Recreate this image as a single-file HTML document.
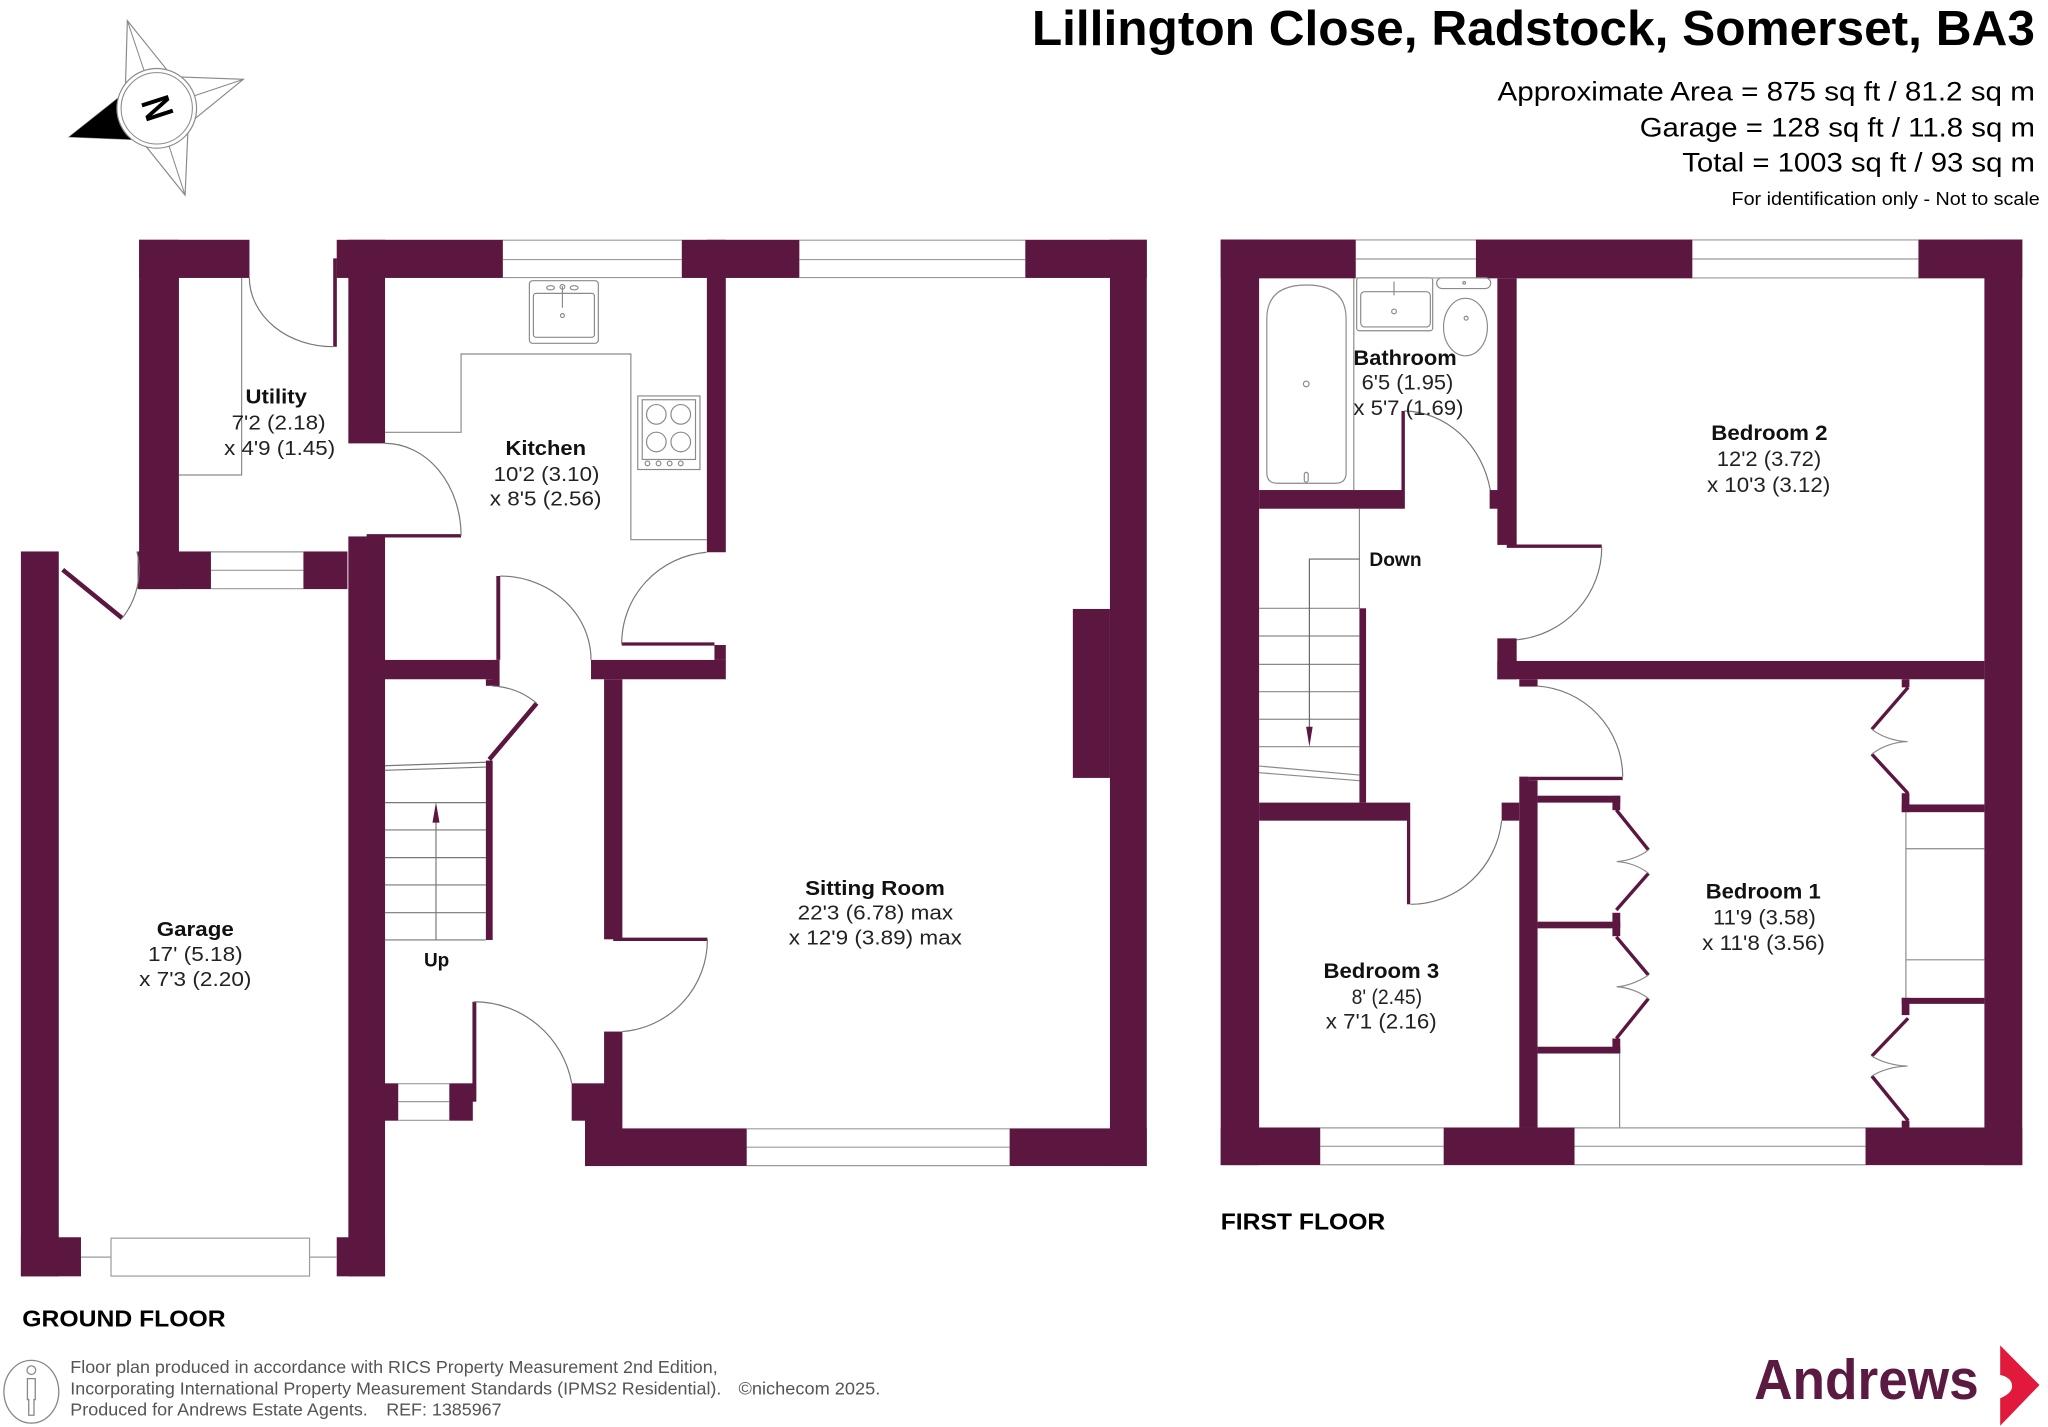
<!DOCTYPE html>
<html><head><meta charset="utf-8"><style>
html,body{margin:0;padding:0;background:#fff;overflow:hidden;}
svg{display:block;}
text{font-family:"Liberation Sans",Arial,sans-serif;}
.b{font-weight:bold;fill:#111;}
.d{fill:#222;}
</style></head><body>
<svg width="2048" height="1427" viewBox="0 0 1568 1092" preserveAspectRatio="none" xmlns="http://www.w3.org/2000/svg">
<rect x="0" y="0" width="1568" height="1092" fill="#fff"/>

<!-- Compass -->
<g>
<polygon points="97.5,15.8 132,58.7 186.3,60.7 144.1,95 141.7,149.3 107.8,107 53.1,104.7 95.9,70.8" fill="#fff" stroke="#8a8a8a" stroke-width="0.9"/>
<polygon points="53.1,104.7 107.8,107 120,82.9 95.9,70.8" fill="#000"/>
<line x1="97.5" y1="15.8" x2="120" y2="82.9" stroke="#8a8a8a" stroke-width="0.8"/>
<line x1="186.3" y1="60.7" x2="120" y2="82.9" stroke="#8a8a8a" stroke-width="0.8"/>
<line x1="141.7" y1="149.3" x2="120" y2="82.9" stroke="#8a8a8a" stroke-width="0.8"/>
<circle cx="120" cy="82.9" r="30.5" fill="#fff" stroke="#8a8a8a" stroke-width="0.9"/>
<circle cx="120" cy="82.9" r="27.3" fill="none" stroke="#8a8a8a" stroke-width="0.8"/>
<g transform="translate(120,82.9) rotate(-108) scale(0.78,1)"><text x="0" y="11.2" text-anchor="middle" font-size="31" font-weight="bold" fill="#000">N</text></g>
</g>

<!-- Title -->
<text x="790" y="34.4" font-size="37.5" font-weight="bold" fill="#000" textLength="768" lengthAdjust="spacingAndGlyphs">Lillington Close, Radstock, Somerset, BA3</text>
<text x="1146.5" y="77" font-size="20.5" fill="#000" textLength="411.5" lengthAdjust="spacingAndGlyphs">Approximate Area = 875 sq ft / 81.2 sq m</text>
<text x="1255.4" y="104.6" font-size="20.5" fill="#000" textLength="302.6" lengthAdjust="spacingAndGlyphs">Garage = 128 sq ft / 11.8 sq m</text>
<text x="1288" y="131.4" font-size="20.5" fill="#000" textLength="270" lengthAdjust="spacingAndGlyphs">Total = 1003 sq ft / 93 sq m</text>
<text x="1325.7" y="156.8" font-size="14" fill="#000" textLength="236" lengthAdjust="spacingAndGlyphs">For identification only - Not to scale</text>

<!-- ================= GROUND FLOOR ================= -->
<g fill="#5c1740">
<rect x="106.5" y="183.5" width="84.5" height="29.2"/>
<rect x="106.5" y="183.5" width="30.5" height="267.3"/>
<rect x="105.4" y="422" width="56.1" height="28.8"/>
<rect x="232.3" y="422" width="33.7" height="28.8"/>
<rect x="257.8" y="183.5" width="127.2" height="29.2"/>
<rect x="522" y="183.5" width="90" height="29.2"/>
<rect x="785" y="183.5" width="93" height="29.2"/>
<rect x="266.7" y="183.5" width="28.1" height="155.8"/>
<rect x="266.7" y="410.5" width="28.1" height="566.2"/>
<rect x="16" y="422" width="29" height="554.7"/>
<rect x="16" y="946.8" width="46" height="29.9"/>
<rect x="257.8" y="946.8" width="37" height="29.9"/>
<rect x="541.2" y="183.5" width="14.5" height="239.1"/>
<rect x="547" y="493.6" width="8.7" height="11.4"/>
<rect x="294.6" y="505" width="85.9" height="14.8"/>
<rect x="377" y="505" width="5.5" height="20"/>
<rect x="452.5" y="505" width="103.2" height="14.8"/>
<rect x="372" y="519.8" width="5.2" height="5"/>
<rect x="372" y="582" width="5.2" height="137.3"/>
<rect x="462.5" y="519.8" width="14" height="199"/>
<rect x="462.5" y="789.4" width="14" height="40"/>
<rect x="437.7" y="829" width="38.8" height="28.6"/>
<rect x="447.9" y="857" width="28.6" height="35.3"/>
<rect x="447.9" y="863.5" width="123.8" height="28.8"/>
<rect x="773" y="863.5" width="105" height="28.8"/>
<rect x="849.8" y="183.5" width="28.2" height="708.8"/>
<rect x="821.4" y="466" width="28.4" height="129.3"/>
<rect x="294.6" y="829" width="10.3" height="28.6"/>
<rect x="344" y="829" width="18" height="28.6"/>
<rect x="362" y="829" width="2.5" height="14"/>
</g>

<!-- door leaves ground -->
<g stroke="#5c1740" fill="none" stroke-linecap="butt">
<line x1="256.5" y1="197.7" x2="256.5" y2="265.3" stroke-width="2.8"/>
<line x1="280.7" y1="410" x2="353" y2="410" stroke-width="2.6"/>
<line x1="48" y1="436" x2="93.5" y2="473" stroke-width="3.5"/>
<line x1="381.5" y1="440.8" x2="381.5" y2="505" stroke-width="3"/>
<line x1="476" y1="492.8" x2="547" y2="492.8" stroke-width="2.5"/>
<line x1="410.9" y1="538.2" x2="374.6" y2="581.2" stroke-width="3.5"/>
<line x1="469.5" y1="718.8" x2="541.6" y2="718.8" stroke-width="2.5"/>
<line x1="363.2" y1="766.6" x2="363.2" y2="843" stroke-width="3"/>
</g>

<!-- door arcs ground -->
<g stroke="#777" fill="none" stroke-width="0.9">
<path d="M190.9,212.5 A64,53 0 0 0 255.2,265.3"/>
<path d="M294.8,339.3 A58.2,70.6 0 0 1 353,409.9"/>
<path d="M93.5,473 A58.6,58.6 0 0 0 104.8,422"/>
<path d="M382.8,440.8 A69.7,64.2 0 0 1 452.5,505"/>
<path d="M476,492.8 A71,70 0 0 1 541,422.6"/>
<path d="M377,525 A56.3,56.3 0 0 1 410.9,538.2"/>
<path d="M541.6,718.8 A70.6,70.6 0 0 1 476.5,789.4"/>
<path d="M363.2,766.6 A76,76 0 0 1 437.7,829"/>
</g>

<!-- windows ground -->
<g stroke="#9a9a9a" stroke-width="0.9" fill="none">
<path d="M385,183.8 H522 M385,198.6 H522 M385,212.4 H522"/>
<path d="M612,183.8 H785 M612,198.6 H785 M612,212.4 H785"/>
<path d="M161.5,422.3 H232.3 M161.5,436.4 H232.3 M161.5,450.5 H232.3"/>
<path d="M304.9,829.3 H344 M304.9,843 H344 M304.9,857.3 H344"/>
<path d="M571.7,863.8 H773 M571.7,877.9 H773 M571.7,892 H773"/>
<rect x="85" y="947.5" width="152" height="29"/>
<path d="M62,962 H85 M237,962 H257.8"/>
</g>

<!-- kitchen & utility fittings -->
<g stroke="#8a8a8a" stroke-width="0.9" fill="none">
<path d="M294.8,330.8 H353 V270.9 H483 V413 H541.2"/>
<path d="M185,212.7 V363.5 H137"/>
<rect x="405.3" y="214.8" width="52.8" height="47.9" rx="2.5"/>
<rect x="408.4" y="224.5" width="46.7" height="33.6" rx="2"/>
<ellipse cx="421.5" cy="220.2" rx="3" ry="1.6"/><ellipse cx="439.6" cy="220.2" rx="3" ry="1.6"/>
<circle cx="430.6" cy="219.5" r="1.8"/>
<line x1="430.6" y1="219" x2="430.6" y2="235.5"/>
<circle cx="430.6" cy="241.5" r="1.5"/>
<rect x="488.3" y="303" width="47.6" height="56.3"/>
<rect x="491.7" y="305.9" width="40.8" height="45.7"/>
<circle cx="502.5" cy="317.1" r="7.5"/><circle cx="521.2" cy="317.1" r="7.5"/>
<circle cx="502.5" cy="338.2" r="7.5"/><circle cx="521.2" cy="338.2" r="7.5"/>
<circle cx="495.7" cy="354.6" r="1.8"/><circle cx="504.2" cy="354.6" r="1.8"/><circle cx="512.7" cy="354.6" r="1.8"/><circle cx="521.2" cy="354.6" r="1.8"/>
</g>

<!-- ground stairs -->
<g stroke="#777" stroke-width="0.9" fill="none">
<line x1="294.6" y1="586" x2="372" y2="583.3"/>
<line x1="294.6" y1="589.5" x2="372" y2="587"/>
<line x1="294.6" y1="614.2" x2="372" y2="614.2"/>
<line x1="294.6" y1="635.1" x2="372" y2="635.1"/>
<line x1="294.6" y1="656.3" x2="372" y2="656.3"/>
<line x1="294.6" y1="677.2" x2="372" y2="677.2"/>
<line x1="294.6" y1="698.4" x2="372" y2="698.4"/>
<line x1="294.6" y1="719.3" x2="372" y2="719.3"/>
<line x1="333.8" y1="719.3" x2="333.8" y2="627"/>
</g>
<polygon points="331.1,629.5 336.5,629.5 333.8,614" fill="#5c1740"/>

<!-- ground labels -->
<text class="b" x="188" y="308.7" font-size="15.5" textLength="47" lengthAdjust="spacingAndGlyphs">Utility</text>
<text class="d" x="177.3" y="328.7" font-size="15.5" textLength="72" lengthAdjust="spacingAndGlyphs">7'2 (2.18)</text>
<text class="d" x="171.6" y="348.1" font-size="15.5" textLength="85" lengthAdjust="spacingAndGlyphs">x 4'9 (1.45)</text>

<text class="b" x="387" y="348.1" font-size="15.5" textLength="61.7" lengthAdjust="spacingAndGlyphs">Kitchen</text>
<text class="d" x="377.9" y="368.1" font-size="15.5" textLength="81" lengthAdjust="spacingAndGlyphs">10'2 (3.10)</text>
<text class="d" x="375" y="386.8" font-size="15.5" textLength="85.5" lengthAdjust="spacingAndGlyphs">x 8'5 (2.56)</text>

<text class="b" x="120" y="716.3" font-size="15.5" textLength="59" lengthAdjust="spacingAndGlyphs">Garage</text>
<text class="d" x="113.3" y="735.5" font-size="15.5" textLength="72.5" lengthAdjust="spacingAndGlyphs">17' (5.18)</text>
<text class="d" x="106.5" y="754.7" font-size="15.5" textLength="86" lengthAdjust="spacingAndGlyphs">x 7'3 (2.20)</text>

<text class="b" x="616.4" y="684.8" font-size="15.5" textLength="107" lengthAdjust="spacingAndGlyphs">Sitting Room</text>
<text class="d" x="610.7" y="703.6" font-size="15.5" textLength="119" lengthAdjust="spacingAndGlyphs">22'3 (6.78) max</text>
<text class="d" x="603.9" y="722.9" font-size="15.5" textLength="132.6" lengthAdjust="spacingAndGlyphs">x 12'9 (3.89) max</text>

<text class="b" x="324.6" y="739.7" font-size="14.5" textLength="19.4" lengthAdjust="spacingAndGlyphs">Up</text>

<text x="17" y="1015.2" font-size="17.5" font-weight="bold" fill="#000" textLength="155.8" lengthAdjust="spacingAndGlyphs">GROUND FLOOR</text>

<!-- ================= FIRST FLOOR ================= -->
<g fill="#5c1740">
<rect x="934.6" y="183.3" width="103.4" height="29.7"/>
<rect x="1130" y="183.3" width="165.7" height="29.7"/>
<rect x="1468.8" y="183.3" width="79.5" height="29.7"/>
<rect x="934.6" y="183.3" width="29.4" height="708.3"/>
<rect x="1519.3" y="183.3" width="29" height="708.3"/>
<rect x="934.6" y="862.8" width="76.2" height="28.8"/>
<rect x="1105.3" y="862.8" width="100.2" height="28.8"/>
<rect x="1428.3" y="862.8" width="120" height="28.8"/>
<rect x="964" y="375" width="109.3" height="14.3"/>
<rect x="1073" y="314.5" width="2.6" height="74.8"/>
<rect x="1140.5" y="375" width="6.5" height="14.3"/>
<rect x="1146.4" y="213" width="14.8" height="204"/>
<rect x="1146.4" y="488.5" width="14.8" height="31.3"/>
<rect x="1146.4" y="505.8" width="372.9" height="14"/>
<rect x="1163.2" y="519.8" width="14" height="5.6"/>
<rect x="1163.2" y="597" width="14" height="265.8"/>
<rect x="1163.2" y="594.3" width="7" height="3"/>
<rect x="964" y="614.2" width="113.3" height="13.8"/>
<rect x="1149.7" y="614.2" width="13.5" height="13.8"/>
<rect x="1077.2" y="614.2" width="2.5" height="77.8"/>
<rect x="1040.8" y="465.5" width="5.1" height="148.7"/>
<!-- left wardrobes -->
<rect x="1177.2" y="608.9" width="63.3" height="5.3"/>
<rect x="1234.5" y="609" width="6" height="11"/>
<rect x="1177.2" y="705.3" width="63.3" height="5.1"/>
<rect x="1234.5" y="698.5" width="6" height="17.9"/>
<rect x="1177.2" y="801" width="63.3" height="5.2"/>
<rect x="1234.5" y="794.7" width="6" height="11.5"/>
<!-- right wardrobes -->
<rect x="1456" y="519.8" width="5.9" height="6.2"/>
<rect x="1456" y="607" width="5.9" height="14.5"/>
<rect x="1456" y="615.6" width="63.3" height="5.9"/>
<rect x="1456" y="763.6" width="63.3" height="4.6"/>
<rect x="1456" y="763.6" width="5.9" height="13.2"/>
<rect x="1456" y="857.6" width="5.9" height="5.2"/>
</g>

<!-- first floor door leaves & bifolds -->
<g stroke="#5c1740" fill="none" stroke-width="2.6">
<line x1="1153.6" y1="418" x2="1226.3" y2="418"/>
<line x1="1170.2" y1="595.7" x2="1242.4" y2="595.7"/>
<line x1="1237.5" y1="619.8" x2="1262.1" y2="650.4"/>
<line x1="1262.1" y1="668.3" x2="1237.5" y2="696.4"/>
<line x1="1237.5" y1="716.9" x2="1262.1" y2="746.2"/>
<line x1="1262.1" y1="764.1" x2="1237.5" y2="794.7"/>
<line x1="1460.9" y1="526" x2="1433.1" y2="558.1"/>
<line x1="1433.1" y1="577.1" x2="1460.9" y2="607.2"/>
<line x1="1460.9" y1="779.2" x2="1433.1" y2="808.2"/>
<line x1="1433.1" y1="823.4" x2="1460.9" y2="857.6"/>
</g>

<!-- first floor thin details -->
<g stroke="#8a8a8a" stroke-width="0.9" fill="none">
<path d="M1262.1,650.4 C1255,656 1245,659 1237.8,659.3 C1245,659.6 1255,662.5 1262.1,668.3"/>
<path d="M1262.1,746.2 C1255,751 1245,754.8 1237.8,755.1 C1245,755.4 1255,758.5 1262.1,764.1"/>
<path d="M1433.1,558.1 C1440,563.5 1450,567.2 1460.5,567.5 C1450,567.8 1440,571.5 1433.1,577.1"/>
<path d="M1433.1,808.2 C1440,812.5 1450,815.5 1460.5,815.8 C1450,816.1 1440,819 1433.1,823.4"/>
<line x1="1240" y1="806" x2="1240" y2="862.8"/>
<line x1="1459.2" y1="621.5" x2="1459.2" y2="763.6"/>
<line x1="1459.2" y1="649.5" x2="1519.3" y2="649.5"/>
<line x1="1459.2" y1="734.5" x2="1519.3" y2="734.5"/>
<!-- bathroom -->
<line x1="1036.5" y1="213" x2="1036.5" y2="375"/>
<path d="M969.9,244 Q969.9,218.1 1000.2,218.1 Q1030.6,218.1 1030.6,244 L1030.6,361.8 Q1030.6,369.8 1022.6,369.8 L977.9,369.8 Q969.9,369.8 969.9,361.8 Z"/>
<circle cx="1000.1" cy="293.8" r="2.2"/>
<rect x="998.6" y="361.5" width="3" height="7.5" rx="1.5"/>
<rect x="1038.7" y="212.6" width="58.2" height="40.5" rx="2"/>
<rect x="1041.8" y="223.2" width="53.3" height="27" rx="3"/>
<path d="M1067.3,215.5 V226"/>
<circle cx="1067.3" cy="238.3" r="1.8"/>
<rect x="1100" y="212.6" width="41.3" height="8.2" rx="4"/>
<ellipse cx="1122" cy="250.3" rx="16.8" ry="22"/>
<circle cx="1122.5" cy="243.5" r="1.5"/>
<circle cx="1121" cy="216.5" r="1"/>
<!-- stairs -->
<line x1="1040.8" y1="389.3" x2="1040.8" y2="465.5"/>
<line x1="964" y1="465.5" x2="1040.8" y2="465.5"/>
<line x1="964" y1="486.7" x2="1040.8" y2="486.7"/>
<line x1="964" y1="508.4" x2="1040.8" y2="508.4"/>
<line x1="964" y1="529.3" x2="1040.8" y2="529.3"/>
<line x1="964" y1="550.4" x2="1040.8" y2="550.4"/>
<line x1="964" y1="571.4" x2="1040.8" y2="571.4"/>
<line x1="964" y1="586.2" x2="1040.8" y2="593.1"/>
<line x1="964" y1="591.3" x2="1040.8" y2="597.4"/>
<path d="M1040.8,427.8 H1002.5 V558" stroke="#666"/>
</g>
<polygon points="1000,556.1 1005,556.1 1002.5,571.4" fill="#5c1740"/>

<!-- first floor door arcs -->
<g stroke="#777" fill="none" stroke-width="0.9">
<path d="M1075,314.5 A68,75 0 0 1 1141,375"/>
<path d="M1226.3,418.2 A72,71 0 0 1 1161.2,489.6"/>
<path d="M1242.4,594.3 A70,70 0 0 0 1177.2,525"/>
<path d="M1080,692 A70,72 0 0 0 1149.7,628"/>
</g>

<!-- first floor windows -->
<g stroke="#9a9a9a" stroke-width="0.9" fill="none">
<path d="M1038,183.6 H1130 M1038,198.2 H1130 M1038,212.7 H1130"/>
<path d="M1295.7,183.6 H1468.8 M1295.7,198.2 H1468.8 M1295.7,212.7 H1468.8"/>
<path d="M1010.8,863.1 H1105.3 M1010.8,877.2 H1105.3 M1010.8,891.3 H1105.3"/>
<path d="M1205.5,863.1 H1428.3 M1205.5,877.2 H1428.3 M1205.5,891.3 H1428.3"/>
</g>

<!-- first floor labels -->
<text class="b" x="1036.2" y="279.3" font-size="16" textLength="79.1" lengthAdjust="spacingAndGlyphs">Bathroom</text>
<text class="d" x="1042.5" y="297.9" font-size="16" textLength="70.2" lengthAdjust="spacingAndGlyphs">6'5 (1.95)</text>
<text class="d" x="1036.2" y="317.6" font-size="16" textLength="84.3" lengthAdjust="spacingAndGlyphs">x 5'7 (1.69)</text>

<text class="b" x="1310.2" y="336.6" font-size="16" textLength="89" lengthAdjust="spacingAndGlyphs">Bedroom 2</text>
<text class="d" x="1314.4" y="356.5" font-size="16" textLength="80" lengthAdjust="spacingAndGlyphs">12'2 (3.72)</text>
<text class="d" x="1306.9" y="376.4" font-size="16" textLength="94.4" lengthAdjust="spacingAndGlyphs">x 10'3 (3.12)</text>

<text class="b" x="1306" y="687.6" font-size="16" textLength="88" lengthAdjust="spacingAndGlyphs">Bedroom 1</text>
<text class="d" x="1311.5" y="707.5" font-size="16" textLength="78.7" lengthAdjust="spacingAndGlyphs">11'9 (3.58)</text>
<text class="d" x="1303.2" y="726.9" font-size="16" textLength="94" lengthAdjust="spacingAndGlyphs">x 11'8 (3.56)</text>

<text class="b" x="1013.3" y="748.3" font-size="16" textLength="88.6" lengthAdjust="spacingAndGlyphs">Bedroom 3</text>
<text class="d" x="1034.8" y="768.2" font-size="16" textLength="54" lengthAdjust="spacingAndGlyphs">8' (2.45)</text>
<text class="d" x="1015" y="787.1" font-size="16" textLength="85" lengthAdjust="spacingAndGlyphs">x 7'1 (2.16)</text>

<text class="b" x="1048.4" y="433.1" font-size="14.8" textLength="40" lengthAdjust="spacingAndGlyphs">Down</text>

<text x="934.6" y="940.9" font-size="17.5" font-weight="bold" fill="#000" textLength="126" lengthAdjust="spacingAndGlyphs">FIRST FLOOR</text>

<!-- footer -->
<g stroke="#888" fill="none" stroke-width="1">
<ellipse cx="24" cy="1065" rx="21" ry="24"/>
<circle cx="24" cy="1048.5" r="3.3"/>
<path d="M21,1055 h6 v16 h-1 v12 h-4 v-12 h-1 z"/>
</g>
<g fill="#555" font-size="13.5">
<text x="53.8" y="1050.5" textLength="495.7" lengthAdjust="spacingAndGlyphs">Floor plan produced in accordance with RICS Property Measurement 2nd Edition,</text>
<text x="53.8" y="1067" textLength="498.5" lengthAdjust="spacingAndGlyphs">Incorporating International Property Measurement Standards (IPMS2 Residential).</text>
<text x="565.4" y="1067" textLength="108.6" lengthAdjust="spacingAndGlyphs">©nichecom 2025.</text>
<text x="53.8" y="1083.1" textLength="227.8" lengthAdjust="spacingAndGlyphs">Produced for Andrews Estate Agents.</text>
<text x="295.7" y="1083.1" textLength="88.3" lengthAdjust="spacingAndGlyphs">REF: 1385967</text>
</g>

<!-- logo -->
<text x="1343" y="1070.6" font-size="43" font-weight="bold" fill="#5a1a42" textLength="172" lengthAdjust="spacingAndGlyphs">Andrews</text>
<path d="M1531.4,1029.5 L1561.5,1059.9 L1531.4,1091 L1531.4,1070 Q1541,1066 1540.5,1060.4 Q1540,1054 1531.4,1052.2 Z" fill="#e0193d"/>
</svg>
</body></html>
